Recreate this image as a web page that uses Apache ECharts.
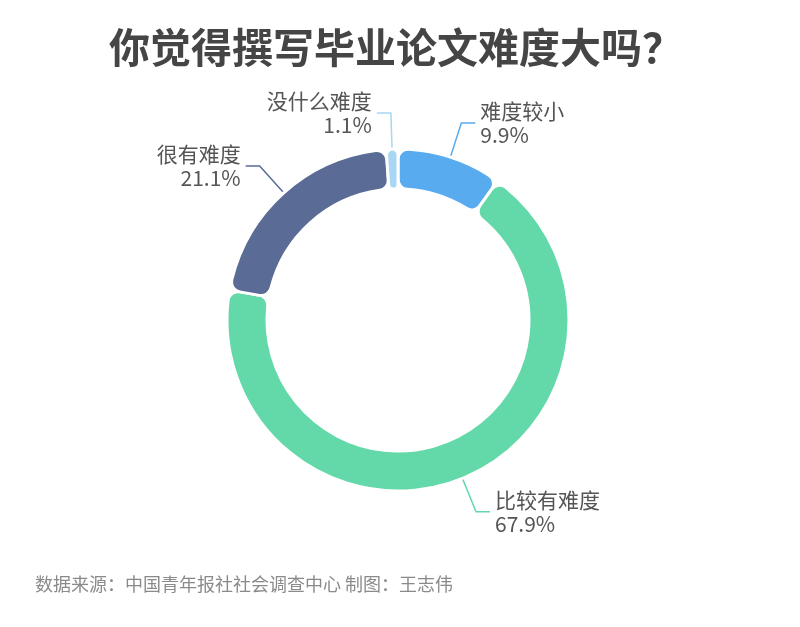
<!DOCTYPE html>
<html>
<head>
<meta charset="utf-8">
<script src="https://cdn.jsdelivr.net/npm/echarts@6/dist/echarts.min.js"></script>
<style>html,body{margin:0;padding:0;background:#fff;}#c{width:800px;height:627px;}</style>
</head>
<body>
<div id="c"></div>
<script>
const titleText = '你觉得撰写毕业论文难度大吗？';
const sourceText = '数据来源：中国青年报社社会调查中心 制图：王志伟';
const categories = ['难度较小', '比较有难度', '很有难度', '没什么难度'];
const values = [9.9, 67.9, 21.1, 1.1];
const colors = ['#58abef', '#63d9a9', '#5a6b96', '#a7d7f4'];

const chart = echarts.init(document.getElementById('c'), null, {renderer: 'canvas'});
const font = '"Noto Sans CJK SC", "Noto Sans", sans-serif';
chart.setOption({
  backgroundColor: '#ffffff',
  title: [{
    text: titleText,
    left: 391, top: 22, textAlign: 'center',
    textStyle: {fontFamily: font, fontSize: 41, fontWeight: 'bold', color: '#454545'}
  }, {
    text: sourceText,
    left: 30, top: 570,
    textStyle: {fontFamily: font, fontSize: 18, fontWeight: 'normal', color: '#8a8a8a'}
  }],
  series: [{
    type: 'pie',
    center: [398, 320],
    radius: [131, 171],
    startAngle: 90,
    clockwise: true,
    avoidLabelOverlap: false,
    itemStyle: {borderColor: '#fff', borderWidth: 3, borderRadius: 10},
    label: {
      show: true,
      fontFamily: font, fontSize: 21, lineHeight: 24, color: '#555555',
      formatter: p => p.name + '\n' + p.value.toFixed(1) + '%'
    },
    labelLine: {show: true, length: 36, length2: 14, smooth: false, lineStyle: {width: 1.5}},
    emphasis: {disabled: true},
    data: categories.map((c, i) => ({name: c, value: values[i], itemStyle: {color: colors[i]}}))
  }]
});
</script>
</body>
</html>
